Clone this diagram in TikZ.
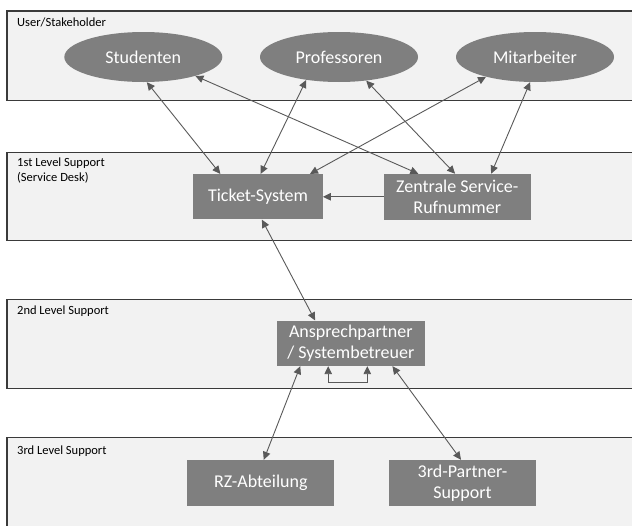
\documentclass[tikz,border=0pt]{standalone}
\usepackage{fontspec}
\setmainfont{Carlito}
\usetikzlibrary{shapes.geometric,arrows.meta,calc}
\definecolor{bandfill}{HTML}{F2F2F2}
\definecolor{bandline}{HTML}{3A3A3A}
\definecolor{boxfill}{HTML}{7F7F7F}
\definecolor{linkcol}{HTML}{595959}
\tikzset{
  band/.style={draw=bandline, fill=bandfill, line width=1.1pt},
  bandlabel/.style={anchor=west, inner sep=0pt, font=\fontsize{12.5}{15}\selectfont, align=left},
  actor/.style={ellipse, fill=boxfill, text=white, inner sep=0pt,
    minimum width=158pt, minimum height=50pt, font=\fontsize{18}{21}\selectfont},
  unit/.style={rectangle, fill=boxfill, text=white, inner sep=0pt, align=center,
    font=\fontsize{18}{21}\selectfont},
  link/.style={draw=linkcol, line width=0.9pt,
    {Triangle[length=8pt,width=7.5pt]}-{Triangle[length=8pt,width=7.5pt]}},
  onelink/.style={draw=linkcol, line width=0.9pt, -{Triangle[length=8pt,width=7.5pt]}}
}
\begin{document}
\begin{tikzpicture}[x=1pt, y=-1pt]
\useasboundingbox (0,0) rectangle (632,525);

% swim lanes
\draw[band] (7,11) rectangle (645,100.5);
\draw[band] (7,152.5) rectangle (645,240.5);
\draw[band] (7,299.5) rectangle (645,388.5);
\draw[band] (7,437.5) rectangle (645,540);

\node[bandlabel] (l1) at (17,22) {User/Stakeholder};
\node[bandlabel] (l2) at (17,170.5) {1st Level Support\\(Service Desk)};
\node[bandlabel] (l3) at (17,311) {2nd Level Support};
\node[bandlabel] (l4) at (17,451) {3rd Level Support};

% stakeholders
\node[actor] (stud) at (143.3,57) {Studenten};
\node[actor] (prof) at (339,57) {Professoren};
\node[actor] (mita) at (535,57) {Mitarbeiter};

% 1st level
\node[unit, minimum width=129.4pt, minimum height=45.3pt] (tick) at (258,196.8) {Ticket-System};
\node[unit, minimum width=146.7pt, minimum height=45.7pt] (zent) at (457.3,196.8) {Zentrale Service-\\Rufnummer};

% 2nd level
\node[unit, minimum width=148.3pt, minimum height=45.3pt] (ansp) at (350.8,343.3) {Ansprechpartner\\/ Systembetreuer};

% 3rd level
\node[unit, minimum width=147pt, minimum height=46pt] (rzab) at (260.8,483) {RZ-Abteilung};
\node[unit, minimum width=147pt, minimum height=46pt] (thrd) at (462.5,483) {3rd-Partner-\\Support};

% stakeholder links
\draw[link] (stud.-82) -- ($(tick.north west)!0.21!(tick.north east)$);
\draw[link] (stud.-20) -- ($(zent.north west)!0.235!(zent.north east)$);
\draw[link] (prof.-145) -- ($(tick.north west)!0.52!(tick.north east)$);
\draw[link] (prof.-41) -- ($(zent.north west)!0.485!(zent.north east)$);
\draw[link] (mita.-158) -- ($(tick.north west)!0.9!(tick.north east)$);
\draw[link] (mita.-101) -- ($(zent.north west)!0.73!(zent.north east)$);

% hotline feeds the ticket system
\draw[onelink] (zent.west) -- (tick.east);

% escalation paths
\draw[link] ($(tick.south west)!0.53!(tick.south east)$) -- ($(ansp.north west)!0.26!(ansp.north east)$);
\draw[link] ($(ansp.south west)!0.16!(ansp.south east)$) -- ($(rzab.north west)!0.52!(rzab.north east)$);
\draw[link] ($(ansp.south west)!0.78!(ansp.south east)$) -- ($(thrd.north west)!0.49!(thrd.north east)$);

% internal loop within 2nd level
\coordinate (la) at ($(ansp.south west)!0.348!(ansp.south east)$);
\coordinate (lb) at ($(ansp.south west)!0.611!(ansp.south east)$);
\draw[link] (la) -- ++(0,16) -| (lb);
\end{tikzpicture}
\end{document}
